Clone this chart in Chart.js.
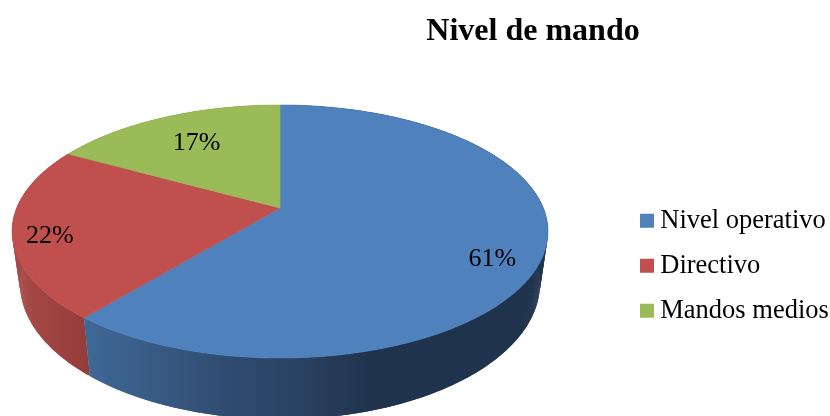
<!DOCTYPE html>
<html><head><meta charset="utf-8">
<style>html,body{margin:0;padding:0;background:#fff}canvas{display:block}</style>
<script src="https://cdn.jsdelivr.net/npm/chart.js@4/dist/chart.umd.min.js"></script>
</head><body><canvas id="c" width="830" height="416"></canvas>
<script>
const titleText = 'Nivel de mando';
const categories = ['Nivel operativo', 'Directivo', 'Mandos medios'];
const percentages = [61, 22, 17];
const faceColors = ['#4F81BD', '#C0504D', '#9BBB59'];

// Perspective projection of the pie disc onto the page
const CX = 280, P = 0.1858;
const TOP_DISC = {a: 263.3, b: 83.5, c: 208};
const BASE_DISC = {a: 255.5, b: 83.4, c: 258};
const project = (d, u, v) => {
  const w = 1 - P * v;
  return [CX + d.a * u / w, (d.b * v + d.c) / w];
};
const onRim = (d, t, r = 1) => project(d, r * Math.sin(t), -r * Math.cos(t));
// Percentage label anchors on the disc (u, v)
const labelAnchors = [[0.748, 0.39], [-0.838, 0.22], [-0.352, -0.59]];

const sideGradients = (ctx) => {
  const mk = (x0, x1, stops) => {
    const g = ctx.createLinearGradient(x0, 0, x1, 0);
    stops.forEach(s => g.addColorStop(s[0], s[1]));
    return g;
  };
  return [
    mk(85, 400, [[0, '#3F6896'], [0.2, '#395C86'], [0.46, '#2F4B6F'], [0.68, '#2A4263'], [0.9, '#1F334C'], [1, '#1F334C']]),
    mk(12, 92, [[0, '#A94947'], [1, '#933C3A']]),
    mk(60, 280, [[0, '#7A9445'], [1, '#66803A']])
  ];
};

const pie3d = {
  id: 'pie3d',
  afterLayout(chart) {
    chart.titleBlock.left = 236;
    chart.titleBlock.top = 13;
    chart.legend.left = 628.5;
    chart.legend.top = 189;
  },
  beforeDatasetDraw(chart, args) {
    const ctx = chart.ctx;
    const arcs = chart.getDatasetMeta(args.index).data;
    const grads = sideGradients(ctx);
    const toT = a => a + Math.PI / 2;
    ctx.save();
    [2, 1, 0].forEach(i => {
      const s = toT(arcs[i].startAngle), e = toT(arcs[i].endAngle);
      const n = Math.ceil((e - s) * 120);
      ctx.fillStyle = grads[i];
      for (let k = 0; k < n; k++) {
        // each strip overlaps the next one so no seams show
        const t0 = s + (e - s) * k / n, t1 = s + (e - s) * Math.min(k + 2, n) / n;
        const q = [onRim(TOP_DISC, t0), onRim(TOP_DISC, t1), onRim(BASE_DISC, t1), onRim(BASE_DISC, t0)];
        ctx.beginPath();
        q.forEach((p, j) => j ? ctx.lineTo(p[0], p[1]) : ctx.moveTo(p[0], p[1]));
        ctx.closePath();
        ctx.fill();
      }
    });
    ctx.lineWidth = 0.6;
    arcs.forEach((arc) => {
      const s = toT(arc.startAngle), e = toT(arc.endAngle);
      const n = Math.ceil((e - s) * 120);
      const apex = project(TOP_DISC, 0, 0);
      ctx.beginPath();
      ctx.moveTo(apex[0], apex[1]);
      for (let k = 0; k <= n; k++) {
        const p = onRim(TOP_DISC, s + (e - s) * k / n);
        ctx.lineTo(p[0], p[1]);
      }
      ctx.closePath();
      ctx.fillStyle = ctx.strokeStyle = arc.options.backgroundColor;
      ctx.fill();
      ctx.stroke();
    });
    ctx.restore();
    return false;
  },
  afterDatasetsDraw(chart) {
    const ctx = chart.ctx;
    ctx.save();
    ctx.font = '26px "Liberation Serif"';
    ctx.fillStyle = '#000';
    ctx.textAlign = 'center';
    ctx.textBaseline = 'middle';
    percentages.forEach((v, i) => {
      const p = project(TOP_DISC, labelAnchors[i][0], labelAnchors[i][1]);
      ctx.fillText(v + '%', p[0], p[1]);
    });
    ctx.restore();
  }
};

new Chart(document.getElementById('c'), {
  type: 'pie',
  data: {
    labels: categories,
    datasets: [{data: percentages, backgroundColor: faceColors, borderWidth: 0}]
  },
  plugins: [pie3d],
  options: {
    responsive: false,
    animation: false,
    plugins: {
      tooltip: {enabled: false},
      title: {
        display: true, text: titleText, color: '#000',
        font: {family: '"Liberation Serif"', size: 32, weight: 'bold'},
        padding: 0
      },
      legend: {
        position: 'right', align: 'start',
        labels: {
          usePointStyle: true, pointStyle: 'rect',
          boxWidth: 0.01, boxHeight: 14, padding: 18.5,
          color: '#000',
          font: {family: '"Liberation Serif"', size: 26.5}
        }
      }
    }
  }
});
</script></body></html>
